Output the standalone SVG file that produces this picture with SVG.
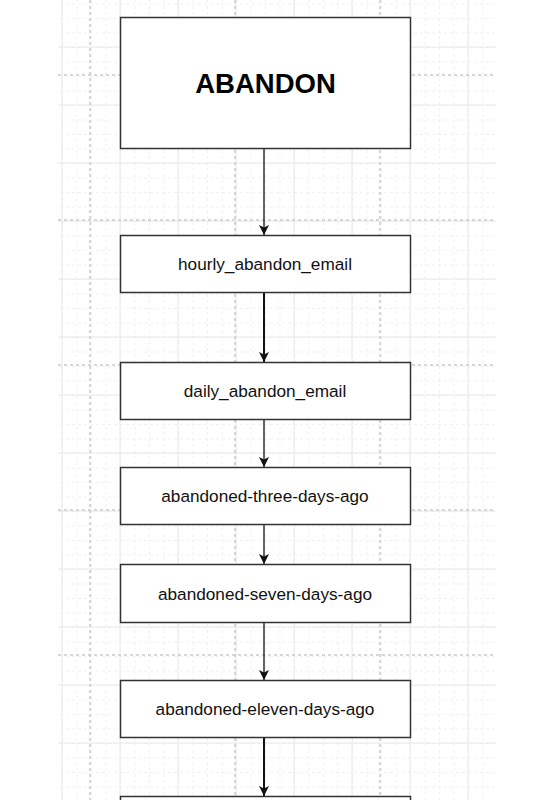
<svg xmlns="http://www.w3.org/2000/svg" width="533" height="800" viewBox="0 0 533 800">
<style>
.minor{stroke:#f1f1f1;stroke-width:1;stroke-dasharray:3 3;fill:none}
.major{stroke:#e8e8e8;stroke-width:1;fill:none}
.dot{stroke:#cacaca;stroke-width:1.5;stroke-dasharray:3 3;fill:none}
.box{fill:#fff;stroke:#333;stroke-width:1.5}
.lbl{font-family:"Liberation Sans",Arial,sans-serif;font-size:17.2px;fill:#111;text-anchor:middle}
.title{font-family:"Liberation Sans",Arial,sans-serif;font-size:27.5px;font-weight:bold;fill:#000;text-anchor:middle}
.edge{stroke:#111;fill:none}
</style>
<defs>
<marker id="ah" viewBox="0 0 10 10" refX="10" refY="5" markerWidth="10" markerHeight="10" markerUnits="userSpaceOnUse" orient="auto">
<path d="M0,0 L10,5 L0,10 L2.5,5 Z" fill="#111"/>
</marker>
<pattern id="minorV" x="62" y="0" width="14.5" height="800" patternUnits="userSpaceOnUse">
<line x1="0.5" y1="0" x2="0.5" y2="800" class="minor"/>
</pattern>
<pattern id="minorH" x="0" y="3.5" width="533" height="14.5" patternUnits="userSpaceOnUse">
<line x1="0" y1="0.5" x2="533" y2="0.5" class="minor"/>
</pattern>
</defs>
<rect width="533" height="800" fill="#fff"/>
<g id="grid">
<rect x="58" y="0" width="438" height="800" fill="url(#minorV)"/>
<rect x="58" y="0" width="438" height="800" fill="url(#minorH)"/>
<path class="major" d="M62,0V800M120,0V800M178,0V800M236,0V800M294,0V800M352,0V800M410,0V800M468,0V800"/>
<path class="major" d="M58,47H496M58,105H496M58,163H496M58,221H496M58,279H496M58,337H496M58,395H496M58,453H496M58,511H496M58,569H496M58,627H496M58,685H496M58,743H496"/>
<path class="dot" d="M90,0V800M235,0V800M380,0V800"/>
<path class="dot" d="M58,75H496M58,220H496M58,365H496M58,510H496M58,655H496"/>
</g>
<g id="connectors">
<line class="edge" stroke-width="1.3" x1="264" y1="148" x2="264" y2="235" marker-end="url(#ah)"/>
<line class="edge" stroke-width="2" x1="264" y1="293" x2="264" y2="362" marker-end="url(#ah)"/>
<line class="edge" stroke-width="1.3" x1="264" y1="419" x2="264" y2="467" marker-end="url(#ah)"/>
<line class="edge" stroke-width="1.3" x1="264" y1="524" x2="264" y2="564" marker-end="url(#ah)"/>
<line class="edge" stroke-width="1.3" x1="264" y1="623" x2="264" y2="680" marker-end="url(#ah)"/>
<line class="edge" stroke-width="2" x1="264" y1="738" x2="264" y2="796" marker-end="url(#ah)"/>
</g>
<g id="node-abandon">
<rect class="box" x="120.5" y="17.5" width="290" height="131"/>
<text class="title" x="265.5" y="92.5">ABANDON</text>
</g>
<g id="node-hourly">
<rect class="box" x="120.5" y="235.5" width="290" height="57"/>
<text class="lbl" x="265" y="270">hourly_abandon_email</text>
</g>
<g id="node-daily">
<rect class="box" x="120.5" y="362.5" width="290" height="57"/>
<text class="lbl" x="265" y="397">daily_abandon_email</text>
</g>
<g id="node-three">
<rect class="box" x="120.5" y="467.5" width="290" height="57"/>
<text class="lbl" x="265" y="502">abandoned-three-days-ago</text>
</g>
<g id="node-seven">
<rect class="box" x="120.5" y="564.5" width="290" height="58"/>
<text class="lbl" x="265" y="600">abandoned-seven-days-ago</text>
</g>
<g id="node-eleven">
<rect class="box" x="120.5" y="680.5" width="290" height="57"/>
<text class="lbl" x="265" y="715">abandoned-eleven-days-ago</text>
</g>
<g id="node-next">
<rect class="box" x="120.5" y="796.5" width="290" height="40"/>
</g>
</svg>
